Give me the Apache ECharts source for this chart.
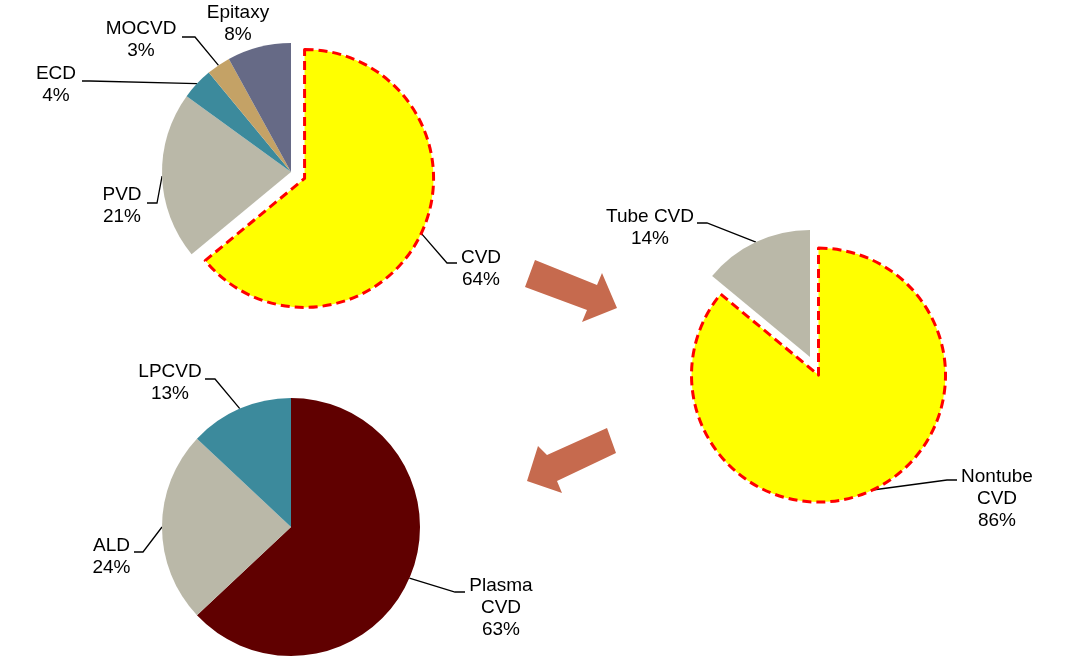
<!DOCTYPE html>
<html><head><meta charset="utf-8">
<script src="https://cdn.jsdelivr.net/npm/echarts@6/dist/echarts.min.js"></script>
<style>html,body{margin:0;padding:0;background:#fff}#c{width:1080px;height:671px}</style>
</head><body><div id="c"></div>
<script>
// ---- data ----
const depoCategories = ['CVD', 'PVD', 'ECD', 'MOCVD', 'Epitaxy'];
const depoShares = [64, 21, 4, 3, 8];
const cvdCategories = ['Nontube\nCVD', 'Tube CVD'];
const cvdShares = [86, 14];
const nontubeCategories = ['Plasma\nCVD', 'ALD', 'LPCVD'];
const nontubeShares = [63, 24, 13];
const highlighted = ['CVD', 'Nontube\nCVD'];

// ---- styles ----
const FONT = '"Liberation Sans", Arial, sans-serif';
const CLEAR = 'rgba(0,0,0,0)';
const depoColors = ['#FFFF00', '#BAB8A8', '#3C8A9C', '#C4A266', '#666A86'];
const cvdColors = ['#FFFF00', '#BAB8A8'];
const nontubeColors = ['#600000', '#BAB8A8', '#3C8A9C'];

// label positions (centre of text block) and elbow points of leader lines
const labelPlaces = [
  [
    {x: 481, y: 269, pts: [[447, 263], [457, 263]]},
    {x: 122, y: 206, pts: [[157, 203], [147, 203]]},
    {x: 56, y: 85, pts: [[90, 81], [82, 81]]},
    {x: 141, y: 39.5, pts: [[195, 37], [182, 37]]},
    {x: 238, y: 24, pts: null}
  ],
  [
    {x: 997, y: 498.5, pts: [[947, 480], [957, 480]]},
    {x: 650, y: 227.5, pts: [[707, 223], [697, 223]]}
  ],
  [
    {x: 501, y: 607.5, pts: [[455, 592], [465, 592]]},
    {x: 111.5, y: 557, pts: [[143, 552], [134, 552]]},
    {x: 170, y: 382.5, pts: [[215, 379], [205, 379]]}
  ]
];

function makeLabelLayout(idx) {
  return function (p) {
    const cfg = labelPlaces[idx][p.dataIndex];
    const out = {x: cfg.x, y: cfg.y, align: 'center', verticalAlign: 'middle'};
    if (cfg.pts && p.labelLinePoints) {
      out.labelLinePoints = [p.labelLinePoints[0], cfg.pts[0], cfg.pts[1]];
    }
    return out;
  };
}

// layer: 'base' draws the ordinary slices, 'pop' draws only the exploded slice
function buildData(names, values, colors, layer) {
  return names.map((n, i) => {
    const isHi = highlighted.indexOf(n) >= 0;
    const visible = layer === 'base' ? !isHi : isHi;
    const item = {name: n, value: values[i], itemStyle: {color: visible ? colors[i] : CLEAR}};
    if (!visible) {
      item.label = {show: false};
      item.labelLine = {show: false};
      item.itemStyle.borderWidth = 0;
    } else if (isHi) {
      item.itemStyle.borderColor = '#FF0000';
      item.itemStyle.borderWidth = 3;
      item.itemStyle.borderType = [9, 5];
    }
    if (n === 'Epitaxy') item.labelLine = {show: false};
    return item;
  });
}

function pieSeries(idx, names, values, colors, center, radius, layer, z) {
  return {
    type: 'pie',
    center: center,
    radius: radius,
    startAngle: 90,
    clockwise: true,
    avoidLabelOverlap: false,
    silent: true,
    z: z,
    emphasis: {disabled: true},
    label: {
      show: true,
      formatter: '{b}\n{d}%',
      fontFamily: FONT,
      fontSize: 19,
      lineHeight: 22,
      color: '#000',
      align: 'center'
    },
    labelLine: {show: true, length: 20, length2: 10, lineStyle: {color: '#000', width: 1.3}},
    labelLayout: makeLabelLayout(idx),
    data: buildData(names, values, colors, layer)
  };
}

// centre of the exploded slice: moved outwards along its middle angle
function poppedCenter(names, values, center, offset) {
  const total = values.reduce((a, b) => a + b, 0);
  let before = 0;
  for (let i = 0; i < names.length; i++) {
    if (highlighted.indexOf(names[i]) >= 0) {
      const frac = (before + values[i] / 2) / total;
      const theta = (90 - frac * 360) * Math.PI / 180;
      return [center[0] + Math.cos(theta) * offset, center[1] - Math.sin(theta) * offset];
    }
    before += values[i];
  }
  return center;
}

const P1 = [291, 172], P2 = [810, 357], P3 = [291, 527];
const ARROW = '#C66A4E';
const chart = echarts.init(document.getElementById('c'), null, {renderer: 'canvas'});
chart.setOption({
  animation: false,
  backgroundColor: '#fff',
  series: [
    pieSeries(0, depoCategories, depoShares, depoColors, P1, 129, 'base', 2),
    pieSeries(0, depoCategories, depoShares, depoColors, poppedCenter(depoCategories, depoShares, P1, 15), 129, 'pop', 3),
    pieSeries(1, cvdCategories, cvdShares, cvdColors, P2, 127, 'base', 2),
    pieSeries(1, cvdCategories, cvdShares, cvdColors, poppedCenter(cvdCategories, cvdShares, P2, 20), 127, 'pop', 3),
    pieSeries(2, nontubeCategories, nontubeShares, nontubeColors, P3, 129, 'base', 2)
  ],
  graphic: [
    {type: 'polygon', shape: {points: [[535, 260], [597, 285], [602, 273], [617, 308], [582, 322], [587, 310], [525, 287]]}, style: {fill: ARROW}},
    {type: 'polygon', shape: {points: [[607, 428], [616, 453], [557, 481], [562, 493], [527, 481], [538, 446], [547, 455]]}, style: {fill: ARROW}}
  ]
});
</script></body></html>
